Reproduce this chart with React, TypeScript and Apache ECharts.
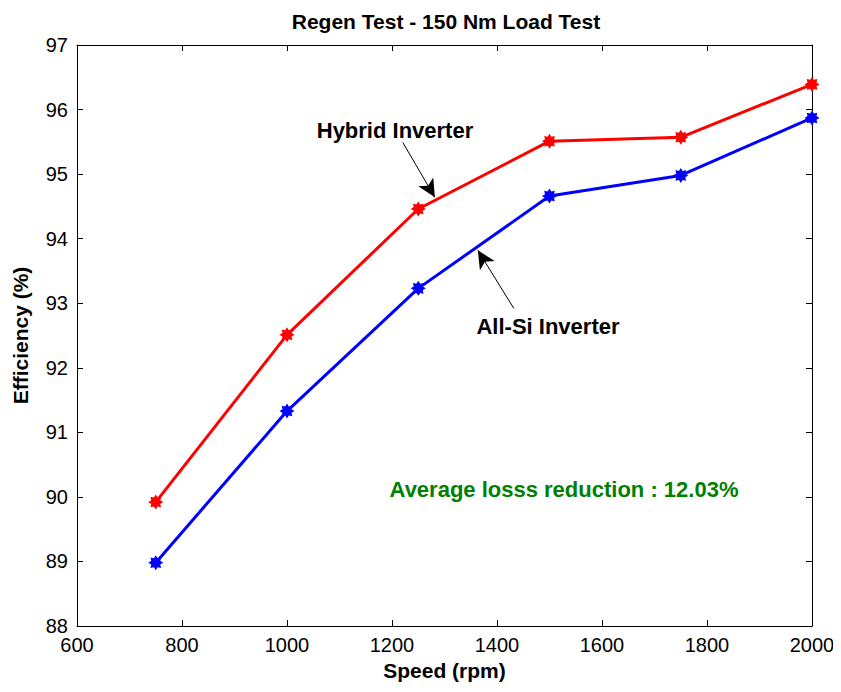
import React, { useEffect, useRef } from "react";
import * as echarts from "echarts";

const speeds = [750, 1000, 1250, 1500, 1750, 2000];
const hybrid = [89.92, 92.51, 94.46, 95.51, 95.57, 96.39];
const allSi = [88.98, 91.33, 93.23, 94.66, 94.98, 95.87];
const titleText = "Regen Test - 150 Nm Load Test";
const xName = "Speed (rpm)";
const yName = "Efficiency (%)";
const hybridLabel = "Hybrid Inverter";
const allSiLabel = "All-Si Inverter";
const noteText = "Average losss reduction : 12.03%";
const hybridArrow = [[1220.6, 95.49], [1281.6, 94.64]];
const allSiArrow = [[1432, 92.92], [1363.5, 93.82]];

const FONT = "'Liberation Sans', Arial, Helvetica, sans-serif";

const starPath = (() => {
  const pts: string[] = [];
  for (let i = 0; i < 16; i++) {
    const ang = (i * Math.PI) / 8 - Math.PI / 2;
    const r = i % 2 === 0 ? 10 : 6.5;
    pts.push(`${(10 + r * Math.cos(ang)).toFixed(2)} ${(10 + r * Math.sin(ang)).toFixed(2)}`);
  }
  return "path://M" + pts.join(" L") + " Z";
})();

export default function App() {
  const ref = useRef<HTMLDivElement>(null);
  useEffect(() => {
    if (!ref.current) return;
    const chart = echarts.init(ref.current, undefined, { renderer: "svg" });
    const axisCommon = {
      type: "value" as const,
      axisLine: { show: true, lineStyle: { color: "#000", width: 1 } },
      axisTick: { show: true, inside: true, length: 6, lineStyle: { color: "#000" } },
      splitLine: { show: false },
    };
    const arrowLine = (pts: number[][]) => ({
      silent: true,
      symbol: ["none", "arrow"],
      symbolSize: [13, 18],
      label: { show: false },
      lineStyle: { color: "#000", width: 1, type: "solid" },
      data: [[{ coord: pts[0] }, { coord: pts[1] }]],
    });
    const textStyleBold = (size: number, color = "#000") => ({
      fontFamily: FONT,
      fontSize: size,
      fontWeight: "bold",
      fill: color,
      align: "center",
      verticalAlign: "middle",
    });
    chart.setOption({
      animation: false,
      backgroundColor: "#fff",
      title: {
        text: titleText,
        left: 441,
        textAlign: "center",
        top: 6,
        textStyle: { fontFamily: FONT, fontSize: 21, fontWeight: "bold", color: "#000" },
      },
      grid: { left: 77, right: 29, top: 45, bottom: 66 },
      xAxis: [
        {
          ...axisCommon,
          min: 600,
          max: 2000,
          interval: 200,
          name: xName,
          nameLocation: "middle",
          nameGap: 32,
          nameTextStyle: { fontFamily: FONT, fontSize: 21, fontWeight: "bold", color: "#000" },
          axisLabel: {
            fontFamily: FONT,
            fontSize: 20,
            color: "#000",
            margin: 9,
            formatter: (v: number) => String(v),
          },
        },
        {
          ...axisCommon,
          position: "top",
          min: 600,
          max: 2000,
          interval: 200,
          axisLabel: { show: false },
        },
      ],
      yAxis: [
        {
          ...axisCommon,
          min: 88,
          max: 97,
          interval: 1,
          name: yName,
          nameLocation: "middle",
          nameGap: 46,
          nameTextStyle: { fontFamily: FONT, fontSize: 21, fontWeight: "bold", color: "#000" },
          axisLabel: { fontFamily: FONT, fontSize: 20, color: "#000", margin: 9 },
        },
        {
          ...axisCommon,
          position: "right",
          min: 88,
          max: 97,
          interval: 1,
          axisLabel: { show: false },
        },
      ],
      series: [
        {
          name: hybridLabel,
          type: "line",
          data: speeds.map((s, i) => [s, hybrid[i]]),
          lineStyle: { color: "#ff0000", width: 3 },
          itemStyle: { color: "#ff0000" },
          symbol: starPath,
          symbolSize: 15,
          markLine: arrowLine(hybridArrow),
        },
        {
          name: allSiLabel,
          type: "line",
          data: speeds.map((s, i) => [s, allSi[i]]),
          lineStyle: { color: "#0000ff", width: 3 },
          itemStyle: { color: "#0000ff" },
          symbol: starPath,
          symbolSize: 15,
          markLine: arrowLine(allSiArrow),
        },
      ],
      graphic: [
        { type: "text", x: 395, y: 130, style: { text: hybridLabel, ...textStyleBold(22) } },
        { type: "text", x: 548, y: 326, style: { text: allSiLabel, ...textStyleBold(22) } },
        { type: "text", x: 564, y: 489, style: { text: noteText, ...textStyleBold(22, "#008000") } },
      ],
    });
    return () => chart.dispose();
  }, []);
  return <div ref={ref} style={{ width: 841, height: 692, margin: -8 }} />;
}
